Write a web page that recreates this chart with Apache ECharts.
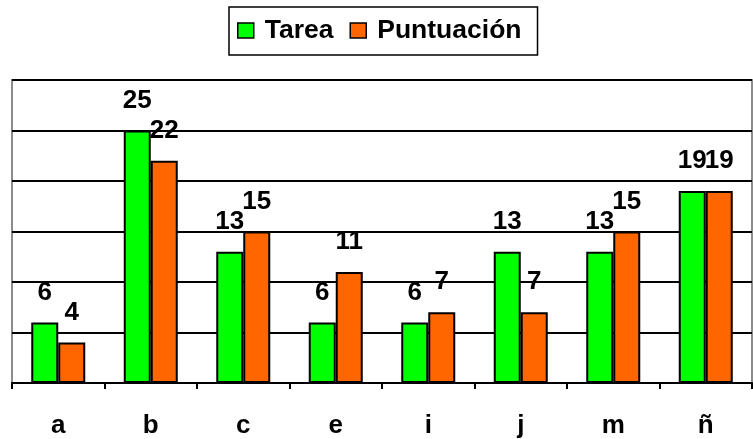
<!DOCTYPE html>
<html>
<head>
<meta charset="utf-8">
<script src="https://cdn.jsdelivr.net/npm/echarts@6/dist/echarts.min.js"></script>
<style>
  html, body { margin: 0; padding: 0; background: #fff; }
  #chart { width: 753px; height: 439px; }
</style>
</head>
<body>
<div id="chart"></div>
<script>
var categories = ['a', 'b', 'c', 'e', 'i', 'j', 'm', 'ñ'];
var tarea = [6, 25, 13, 6, 6, 13, 13, 19];
var puntuacion = [4, 22, 15, 11, 7, 7, 15, 19];

var font = 'Liberation Sans, Arial, sans-serif';

var chart = echarts.init(document.getElementById('chart'));

var labelStyle = {
    show: true,
    position: 'top',
    distance: 17,
    color: '#000',
    fontSize: 26,
    fontWeight: 'bold',
    fontFamily: font
};

chart.setOption({
    animation: false,
    legend: {
        left: 229,
        top: 7,
        padding: [10, 16, 11, 8],
        borderColor: '#000',
        borderWidth: 1.5,
        icon: 'rect',
        itemWidth: 16,
        itemHeight: 15,
        itemGap: 16,
        itemStyle: { borderColor: '#000', borderWidth: 1.5 },
        textStyle: { fontSize: 26.5, fontWeight: 'bold', color: '#000', fontFamily: font, padding: [0, 0, 0, 6] },
        data: ['Tarea', 'Puntuación']
    },
    grid: {
        left: 12, right: 1, top: 80, bottom: 56,
        show: true,
        borderColor: '#8c8c8c',
        borderWidth: 2
    },
    xAxis: {
        type: 'category',
        data: categories,
        axisLine: { lineStyle: { color: '#000', width: 2 } },
        axisTick: { show: true, length: 6, lineStyle: { color: '#000', width: 2 } },
        axisLabel: { margin: 30, color: '#000', fontSize: 26, fontWeight: 'bold', fontFamily: font }
    },
    yAxis: {
        type: 'value',
        min: 0, max: 30, interval: 5,
        axisLine: { show: false },
        axisTick: { show: false },
        axisLabel: { show: false },
        splitLine: { lineStyle: { color: '#000', width: 2 } }
    },
    series: [
        {
            name: 'Tarea', type: 'bar', data: tarea,
            barWidth: 27, barGap: '0%',
            itemStyle: { color: '#00ff00', borderColor: '#000', borderWidth: 2 },
            label: labelStyle
        },
        {
            name: 'Puntuación', type: 'bar', data: puntuacion,
            barWidth: 27,
            itemStyle: { color: '#ff6600', borderColor: '#000', borderWidth: 2 },
            label: labelStyle
        }
    ]
});
</script>
</body>
</html>
